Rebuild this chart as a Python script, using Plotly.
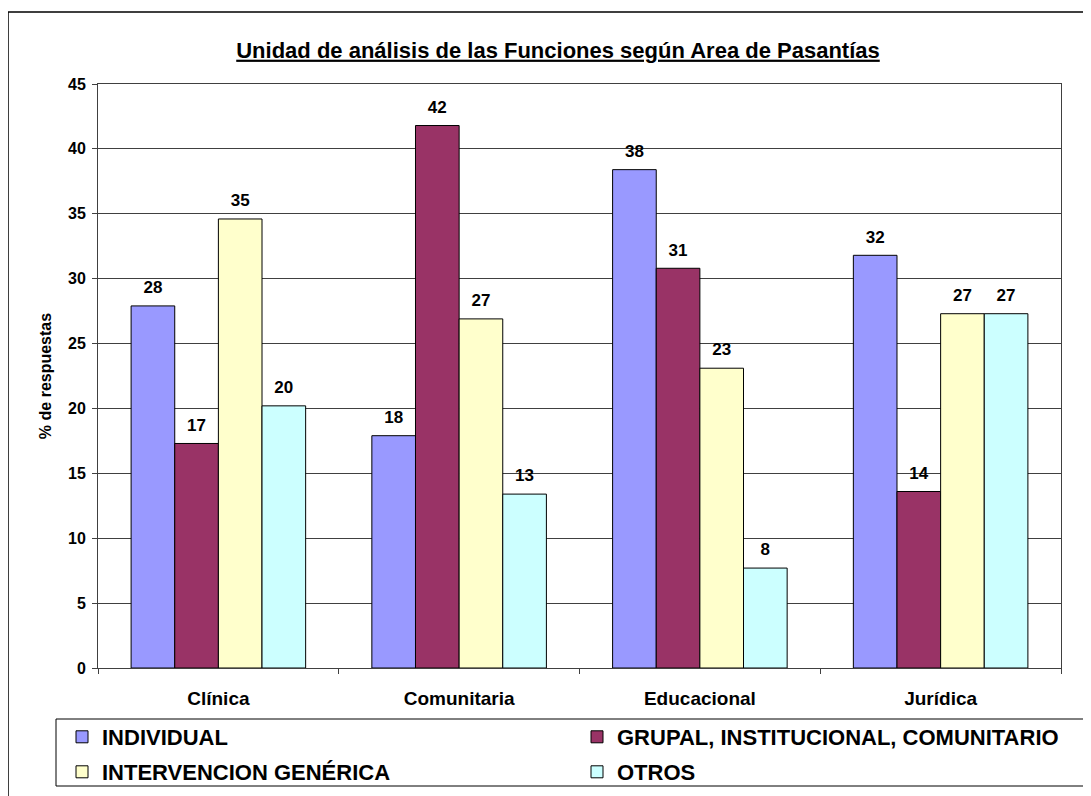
import plotly.graph_objects as go

categories = ["Clínica", "Comunitaria", "Educacional", "Jurídica"]
series_names = ["INDIVIDUAL", "GRUPAL, INSTITUCIONAL, COMUNITARIO",
                "INTERVENCION GENÉRICA", "OTROS"]
individual = [27.9, 17.9, 38.4, 31.8]
grupal = [17.3, 41.8, 30.8, 13.6]
intervencion = [34.6, 26.9, 23.1, 27.3]
otros = [20.2, 13.4, 7.7, 27.3]
colors = ["#9999FF", "#993366", "#FFFFCC", "#CCFFFF"]
y_ticks = [0, 5, 10, 15, 20, 25, 30, 35, 40, 45]

FONT = "Arial, Liberation Sans, sans-serif"
GAP = 0.275
OFF = 8  # page body margin offset

fig = go.Figure()
legend_ids = ["legend", "legend", "legend2", "legend2"]
all_vals = [individual, grupal, intervencion, otros]
for i, (name, vals, col) in enumerate(zip(series_names, all_vals, colors)):
    fig.add_trace(go.Bar(
        x=categories, y=vals, name=name,
        marker=dict(color=col, line=dict(color="#000000", width=1)),
        offsetgroup=str(i),
        legend=legend_ids[i],
        hoverinfo="skip",
    ))
for i, vals in enumerate(all_vals):
    fig.add_trace(go.Scatter(
        x=categories, y=vals, mode="markers+text",
        text=[f"{v:.0f}" for v in vals],
        textposition="top center",
        marker=dict(size=12, opacity=0, color="white"),
        textfont=dict(family=FONT, size=17, color="#000000", weight="bold"),
        offsetgroup=str(i),
        showlegend=False, cliponaxis=False, hoverinfo="skip",
    ))

W, H = 1091 - OFF, 796 - OFF
fig.update_layout(
    width=W, height=H,
    margin=dict(l=98 - OFF, r=W - (1061 - OFF), t=84 - OFF, b=H - (668 - OFF),
                autoexpand=False),
    paper_bgcolor="white", plot_bgcolor="white",
    barmode="group", bargap=GAP, bargroupgap=0,
    scattermode="group", scattergap=GAP,
    font=dict(family=FONT, color="#000000"),
    title=dict(
        text="<b><u>Unidad de análisis de las Funciones según Area de Pasantías</u></b>",
        font=dict(family=FONT, size=22, color="#000000"),
        x=(558 - 98) / 963, xanchor="center", xref="paper",
        y=1 - (50 - OFF) / H, yanchor="middle", yref="container",
    ),
    xaxis=dict(
        type="category",
        showline=True, linecolor="#404040", linewidth=1, mirror=True,
        ticks="outside", ticklen=5, tickcolor="#404040", tickson="boundaries",
        tickfont=dict(family=FONT, size=19, color="#000000", weight="bold"),
        ticklabelstandoff=13,
        showgrid=False,
    ),
    yaxis=dict(
        range=[0, 45], tickvals=y_ticks,
        showline=True, linecolor="#404040", linewidth=1, mirror=True,
        ticks="outside", ticklen=5, tickcolor="#404040",
        tickfont=dict(family=FONT, size=16, color="#000000", weight="bold"),
        ticklabelstandoff=3,
        showgrid=True, gridcolor="#404040", gridwidth=1,
        zeroline=False,
        title=dict(text="% de respuestas", standoff=12,
                   font=dict(family=FONT, size=16, color="#000000", weight="bold")),
    ),
    legend=dict(
        orientation="h",
        x=(62 - 98) / 963, xanchor="left",
        y=(668 - 737) / 584, yanchor="middle",
        bgcolor="rgba(0,0,0,0)", borderwidth=0,
        font=dict(family=FONT, size=22, color="#000000", weight="bold"),
        entrywidth=470, entrywidthmode="pixels",
        traceorder="normal",
    ),
    legend2=dict(
        orientation="h",
        x=(62 - 98) / 963, xanchor="left",
        y=(668 - 772) / 584, yanchor="middle",
        bgcolor="rgba(0,0,0,0)", borderwidth=0,
        font=dict(family=FONT, size=22, color="#000000", weight="bold"),
        entrywidth=470, entrywidthmode="pixels",
        traceorder="normal",
    ),
    shapes=[
        dict(type="rect", xref="paper", yref="paper",
             x0=(8 - 98) / 963, x1=(1089 - 98) / 963,
             y0=(668 - 800) / 584, y1=(668 - 12) / 584,
             line=dict(color="#000000", width=1.5), fillcolor="rgba(0,0,0,0)",
             layer="below"),
        dict(type="rect", xref="paper", yref="paper",
             x0=(56 - 98) / 963, x1=(1084 - 98) / 963,
             y0=(668 - 786) / 584, y1=(668 - 719) / 584,
             line=dict(color="#000000", width=1), fillcolor="rgba(0,0,0,0)",
             layer="below"),
    ],
)

fig.write_html("out.html")
